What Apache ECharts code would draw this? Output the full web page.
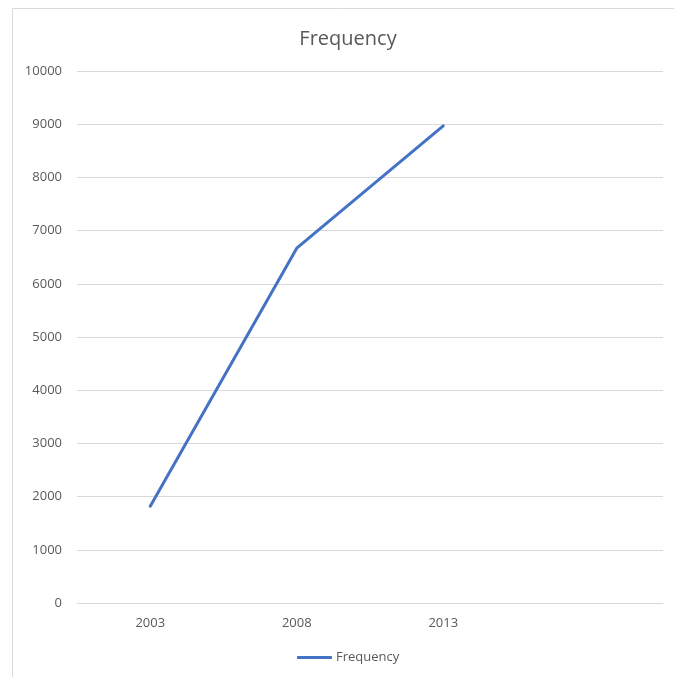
<!DOCTYPE html>
<html>
<head>
<meta charset="utf-8">
<script src="https://cdn.jsdelivr.net/npm/echarts@6/dist/echarts.min.js"></script>
<style>
  html, body { margin: 0; padding: 0; background: #ffffff; }
  #chart { width: 674px; height: 677px; }
</style>
</head>
<body>
<div id="chart"></div>
<script>
// Survey years along the category axis (the trailing slot is left empty)
const years = ['2003', '2008', '2013', ''];
// Frequency recorded for each year
const frequency = [1820, 6670, 8970, null];
// Value-axis range and step
const yMin = 0;
const yMax = 10000;
const yStep = 1000;

const chart = echarts.init(document.getElementById('chart'), null, { renderer: 'canvas' });

const labelColor = '#595959';
const gridColor = '#d9d9d9';
const lineColor = '#4472c4';
const fontFamily = 'Open Sans, Liberation Sans, sans-serif';

chart.setOption({
  backgroundColor: '#ffffff',
  animation: false,
  title: {
    text: 'Frequency',
    left: 343,
    textAlign: 'center',
    top: 24,
    textStyle: {
      color: labelColor,
      fontSize: 20,
      fontWeight: 'normal',
      fontFamily: fontFamily
    }
  },
  legend: {
    bottom: 8,
    left: 292,
    itemWidth: 35,
    itemHeight: 3,
    itemGap: 10,
    textStyle: { color: labelColor, fontSize: 13, fontFamily: fontFamily, padding: [0, 0, 0, -1] },
    data: [{ name: 'Frequency', icon: 'roundRect', itemStyle: { color: lineColor } }]
  },
  grid: {
    left: 77,
    right: 11,
    top: 71,
    bottom: 74,
    containLabel: false
  },
  xAxis: {
    type: 'category',
    data: years,
    boundaryGap: true,
    axisLine: { show: true, lineStyle: { color: gridColor, width: 1 } },
    axisTick: { show: false },
    axisLabel: {
      color: labelColor,
      fontSize: 13,
      fontFamily: fontFamily,
      margin: 14
    },
    splitLine: { show: false }
  },
  yAxis: {
    type: 'value',
    min: yMin,
    max: yMax,
    interval: yStep,
    axisLine: { show: false },
    axisTick: { show: false },
    axisLabel: {
      color: labelColor,
      fontSize: 13,
      fontFamily: fontFamily,
      margin: 15,
      formatter: function (v) { return String(v); }
    },
    splitLine: { show: true, lineStyle: { color: gridColor, width: 1 } }
  },
  series: [{
    name: 'Frequency',
    type: 'line',
    data: frequency,
    symbol: 'none',
    connectNulls: false,
    lineStyle: { color: lineColor, width: 3, cap: 'round', join: 'round' },
    itemStyle: { color: lineColor }
  }],
  graphic: [{
    type: 'polyline',
    silent: true,
    shape: { points: [[12.5, 677], [12.5, 8.5], [674, 8.5]] },
    style: { stroke: gridColor, lineWidth: 1, fill: null }
  }]
});
</script>
</body>
</html>
